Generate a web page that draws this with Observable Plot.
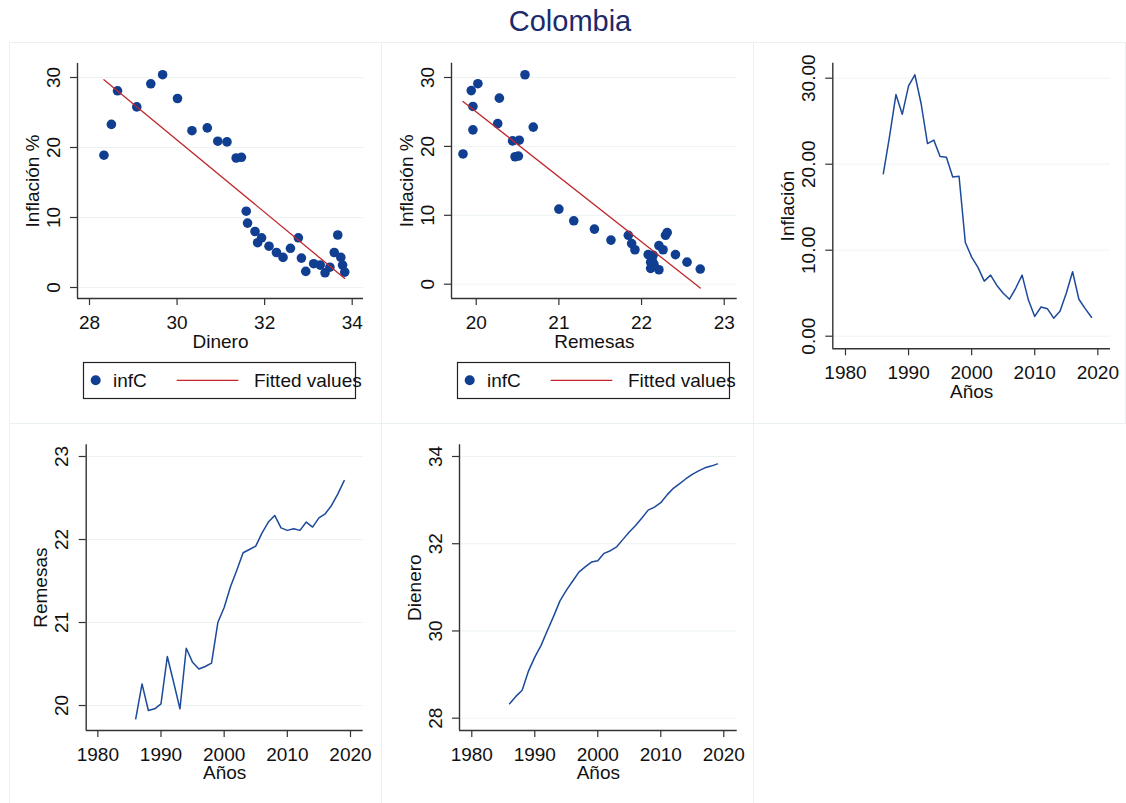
<!DOCTYPE html>
<html>
<head>
<meta charset="utf-8">
<script src="https://cdn.jsdelivr.net/npm/d3@7"></script>
<script src="https://cdn.jsdelivr.net/npm/@observablehq/plot@0.6"></script>
<style>
  html, body { margin: 0; padding: 0; background: #fff; }
  #root { position: relative; width: 1126px; height: 803px; overflow: hidden; background: #fff;
          font-family: "Liberation Sans", Arial, sans-serif; }
  .frame { position: absolute; box-sizing: border-box; border: 1px solid #e9f1f1; }
  .holder { position: absolute; width: 372px; height: 381px; }
  .holder svg { overflow: visible; }
  #title { position: absolute; left: 0; top: 7px; width: 1126px; padding-left: 14px; box-sizing: border-box;
           text-align: center; font-size: 29px; line-height: 1; color: #1b2a6b; }
  .legend { position: absolute; overflow: visible; }
</style>
</head>
<body>
<div id="root">
  <div id="title">Colombia</div>
</div>
<script>
// ---- Data ----
const years = [1986, 1987, 1988, 1989, 1990, 1991, 1992, 1993, 1994, 1995, 1996, 1997,
               1998, 1999, 2000, 2001, 2002, 2003, 2004, 2005, 2006, 2007, 2008, 2009,
               2010, 2011, 2012, 2013, 2014, 2015, 2016, 2017, 2018, 2019];
const inflacion = [18.9, 23.3, 28.1, 25.8, 29.1, 30.4, 27.0, 22.4, 22.8, 20.9, 20.8, 18.5,
                   18.6, 10.9, 9.2, 8.0, 6.4, 7.1, 5.9, 5.0, 4.3, 5.6, 7.1, 4.2,
                   2.3, 3.4, 3.2, 2.1, 2.9, 5.0, 7.5, 4.3, 3.2, 2.2];
const remesas = [19.84, 20.26, 19.94, 19.96, 20.02, 20.59, 20.28, 19.96, 20.69, 20.52, 20.44, 20.47,
                 20.51, 21.00, 21.18, 21.43, 21.63, 21.84, 21.88, 21.92, 22.08, 22.21, 22.29, 22.14,
                 22.11, 22.13, 22.11, 22.21, 22.15, 22.26, 22.31, 22.41, 22.55, 22.71];
const dinero = [28.33, 28.50, 28.64, 29.08, 29.40, 29.67, 30.01, 30.34, 30.69, 30.93, 31.14, 31.35,
                31.47, 31.58, 31.61, 31.78, 31.84, 31.93, 32.10, 32.27, 32.42, 32.59, 32.77, 32.84,
                32.94, 33.12, 33.27, 33.38, 33.49, 33.59, 33.67, 33.74, 33.78, 33.83];

const ticksDinero = [28, 30, 32, 34];
const ticksRemesas = [20, 21, 22, 23];
const ticksInf = [0, 10, 20, 30];
const ticksYears = [1980, 1990, 2000, 2010, 2020];

const rows = years.map((y, i) => ({ year: y, inf: inflacion[i], rem: remesas[i], din: dinero[i] }));

// ---- Styling ----
const FONT = "Liberation Sans, Arial, sans-serif";
const AXIS = "#333333";
const TXT = "#111111";
const DOT = "#103e91";
const LINE = "#1c4a9a";
const FIT = "#c1272d";
const GRID = "#edf3f3";

const root = document.getElementById("root");

function addFrame(left, top) {
  const f = document.createElement("div");
  f.className = "frame";
  Object.assign(f.style, { left: left + "px", top: top + "px", width: "373px", height: "382px" });
  root.appendChild(f);
}

function makePanel(cfg) {
  const fmtX = cfg.xFmt || (d => String(d));
  const fmtY = cfg.yFmt || (d => String(d));
  const chart = Plot.plot({
    width: 372, height: 381,
    marginLeft: cfg.mL, marginRight: cfg.mR, marginTop: cfg.mT, marginBottom: cfg.mB,
    style: { fontFamily: FONT, fontSize: "19px", color: TXT, background: "transparent", overflow: "visible" },
    x: { domain: cfg.xDomain },
    y: { domain: cfg.yDomain },
    marks: [
      Plot.gridY(cfg.yTicks, { stroke: GRID, strokeOpacity: 1, strokeWidth: 1 }),
      ...cfg.marks,
      Plot.ruleY([cfg.yDomain[0]], { stroke: AXIS, strokeWidth: 1.4 }),
      Plot.ruleX([cfg.xDomain[0]], { stroke: AXIS, strokeWidth: 1.4 }),
      Plot.axisX(cfg.xTicks, { tickSize: 7, tickPadding: 10, stroke: AXIS, strokeWidth: 1.2, fill: TXT, tickFormat: fmtX, label: null }),
      Plot.axisY(cfg.yTicks, { tickSize: 7, stroke: AXIS, strokeWidth: 1.2, tickFormat: () => "", label: null }),
      Plot.text(cfg.yTicks, { y: d => d, text: fmtY, frameAnchor: "left", dx: -24, rotate: -90,
                              textAnchor: "middle", lineAnchor: "middle", fill: TXT }),
      Plot.text([cfg.xLabel], { text: d => d, frameAnchor: "bottom", dy: cfg.xLabelDy,
                                textAnchor: "middle", lineAnchor: "middle", fill: TXT }),
      Plot.text([cfg.yLabel], { text: d => d, frameAnchor: "left", dx: -45, rotate: -90,
                                textAnchor: "middle", lineAnchor: "middle", fill: TXT })
    ]
  });
  const h = document.createElement("div");
  h.className = "holder";
  h.style.left = cfg.left + "px";
  h.style.top = cfg.top + "px";
  h.appendChild(chart);
  root.appendChild(h);
}

function addLegend(left, top) {
  const ns = "http://www.w3.org/2000/svg";
  const svg = document.createElementNS(ns, "svg");
  svg.setAttribute("class", "legend");
  svg.setAttribute("width", 273);
  svg.setAttribute("height", 37);
  svg.style.left = left + "px";
  svg.style.top = top + "px";
  svg.innerHTML = `
    <rect x="0.5" y="0.5" width="272" height="36" fill="#fff" stroke="#222" stroke-width="1.2"/>
    <circle cx="12.7" cy="18.3" r="5" fill="${DOT}"/>
    <text x="30" y="25" font-family="${FONT}" font-size="19" fill="${TXT}">infC</text>
    <line x1="93.7" x2="155.3" y1="18.3" y2="18.3" stroke="${FIT}" stroke-width="1.3"/>
    <text x="171" y="25" font-family="${FONT}" font-size="19" fill="${TXT}">Fitted values</text>`;
  root.appendChild(svg);
}

// panel outlines
addFrame(9, 42); addFrame(381, 42); addFrame(753, 42);
addFrame(9, 423); addFrame(381, 423);

// Panel 1: Inflación vs Dinero
makePanel({
  left: 9, top: 42, mL: 68, mR: 18, mT: 21, mB: 125,
  xDomain: [27.726, 34.258], yDomain: [-1.571, 32.0],
  xTicks: ticksDinero, yTicks: ticksInf,
  xLabel: "Dinero", yLabel: "Inflación %", xLabelDy: 43,
  marks: [
    Plot.dot(rows, { x: "din", y: "inf", r: 4.8, fill: DOT, stroke: "none" }),
    Plot.linearRegressionY(rows, { x: "din", y: "inf", stroke: FIT, strokeWidth: 1.3, ci: 0 })
  ]
});
addLegend(83, 361.7);

// Panel 2: Inflación vs Remesas
makePanel({
  left: 381, top: 42, mL: 70, mR: 16.3, mT: 20.7, mB: 125,
  xDomain: [19.701, 23.157], yDomain: [-2.075, 32.075],
  xTicks: ticksRemesas, yTicks: ticksInf,
  xLabel: "Remesas", yLabel: "Inflación %", xLabelDy: 43,
  marks: [
    Plot.dot(rows, { x: "rem", y: "inf", r: 4.8, fill: DOT, stroke: "none" }),
    Plot.linearRegressionY(rows, { x: "rem", y: "inf", stroke: FIT, strokeWidth: 1.3, ci: 0 })
  ]
});
addLegend(456.7, 361.7);

// Panel 3: Inflación over time
makePanel({
  left: 753, top: 42, mL: 79.3, mR: 15, mT: 20.7, mB: 74.7,
  xDomain: [1977.99, 2022.01], yDomain: [-1.465, 31.744],
  xTicks: ticksYears, yTicks: ticksInf, yFmt: d => d.toFixed(2),
  xLabel: "Años", yLabel: "Inflación", xLabelDy: 43,
  marks: [
    Plot.line(rows, { x: "year", y: "inf", stroke: LINE, strokeWidth: 1.5 })
  ]
});

// Panel 4: Remesas over time
makePanel({
  left: 9, top: 423, mL: 76.7, mR: 18.3, mT: 21.3, mB: 74,
  xDomain: [1978.16, 2022.01], yDomain: [19.699, 23.141],
  xTicks: ticksYears, yTicks: ticksRemesas,
  xLabel: "Años", yLabel: "Remesas", xLabelDy: 42,
  marks: [
    Plot.line(rows, { x: "year", y: "rem", stroke: LINE, strokeWidth: 1.5 })
  ]
});

// Panel 5: Dinero over time
makePanel({
  left: 381, top: 423, mL: 78, mR: 16.3, mT: 21.3, mB: 74,
  xDomain: [1978.05, 2022.13], yDomain: [27.718, 34.268],
  xTicks: ticksYears, yTicks: ticksDinero,
  xLabel: "Años", yLabel: "Dienero", xLabelDy: 42,
  marks: [
    Plot.line(rows, { x: "year", y: "din", stroke: LINE, strokeWidth: 1.5 })
  ]
});
</script>
</body>
</html>
